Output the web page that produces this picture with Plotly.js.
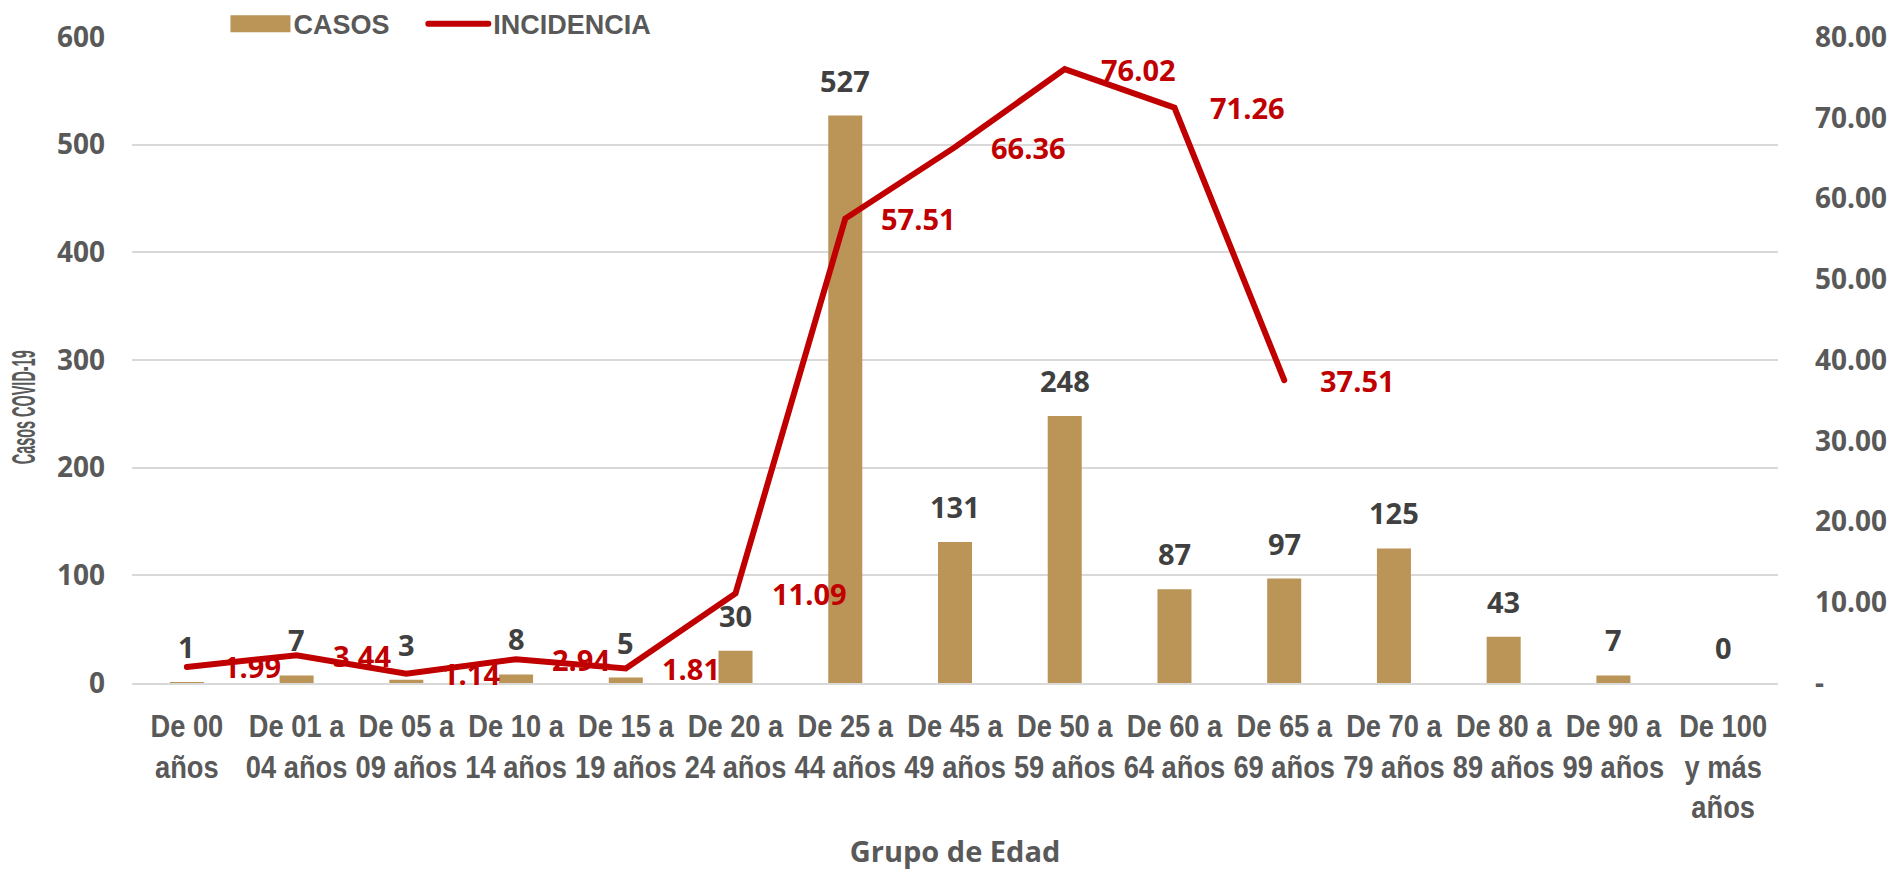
<!DOCTYPE html>
<html>
<head>
<meta charset="utf-8">
<script src="https://cdn.plot.ly/plotly-3.0.1.min.js"></script>
<style>html,body{margin:0;padding:0;background:#fff;}#chart{width:1896px;height:870px;}</style>
</head>
<body>
<div id="chart"></div>
<script>
// ---- data ----
const categories = ["De 00 años","De 01 a 04 años","De 05 a 09 años","De 10 a 14 años","De 15 a 19 años","De 20 a 24 años","De 25 a 44 años","De 45 a 49 años","De 50 a 59 años","De 60 a 64 años","De 65 a 69 años","De 70 a 79 años","De 80 a 89 años","De 90 a 99 años","De 100 y más años"];
const tickLabels = ["De 00<br>años","De 01 a<br>04 años","De 05 a<br>09 años","De 10 a<br>14 años","De 15 a<br>19 años","De 20 a<br>24 años","De 25 a<br>44 años","De 45 a<br>49 años","De 50 a<br>59 años","De 60 a<br>64 años","De 65 a<br>69 años","De 70 a<br>79 años","De 80 a<br>89 años","De 90 a<br>99 años","De 100<br>y más<br>años"];
const casos = [1,7,3,8,5,30,527,131,248,87,97,125,43,7,0];
const incidenciaCats = ["De 00 años","De 01 a 04 años","De 05 a 09 años","De 10 a 14 años","De 15 a 19 años","De 20 a 24 años","De 25 a 44 años","De 45 a 49 años","De 50 a 59 años","De 60 a 64 años","De 65 a 69 años"];
const incidencia = [1.99,3.44,1.14,2.94,1.81,11.09,57.51,66.36,76.02,71.26,37.51];
const yTickVals = [0,100,200,300,400,500,600];
const y2TickVals = [0,10,20,30,40,50,60,70,80];
const y2TickText = ["-","10.00","20.00","30.00","40.00","50.00","60.00","70.00","80.00"];
const seriesNames = ["CASOS","INCIDENCIA"];
const xTitle = "Grupo de Edad";
const yTitle = "Casos COVID-19";

// ---- style ----
const NARROW = '"Liberation Sans", Arial, sans-serif';
const WIDE = '"Open Sans", "Liberation Sans", sans-serif';
const GREY = '#595959';
const DARK = '#404040';
const RED = '#C00000';
const GOLD = '#BB9457';

const traces = [
  {
    type: 'bar', name: seriesNames[0], x: categories, y: casos,
    marker: {color: GOLD}, yaxis: 'y', hoverinfo: 'x+y', legend: 'legend'
  },
  {
    type: 'scatter', mode: 'lines', name: seriesNames[1], x: incidenciaCats, y: incidencia,
    line: {color: RED, width: 6}, yaxis: 'y2', hoverinfo: 'x+y', legend: 'legend2'
  }
];

const annotations = [];
categories.forEach((c, i) => {
  annotations.push({
    x: c, y: casos[i], xref: 'x', yref: 'y', text: String(casos[i]),
    showarrow: false, xanchor: 'center', yanchor: 'bottom', yshift: 14,
    font: {family: WIDE, size: 29, color: DARK, weight: 'bold'}
  });
});
incidenciaCats.forEach((c, i) => {
  annotations.push({
    x: c, y: incidencia[i], xref: 'x', yref: 'y2', text: incidencia[i].toFixed(2),
    showarrow: false, xanchor: 'left', yanchor: 'middle', xshift: 34,
    font: {family: WIDE, size: 29, color: RED, weight: 'bold'}
  });
});
// y-axis title (sits a little below the middle of the axis, as in the reference)
const yTitleIndex = annotations.length;
annotations.push({
  x: -0.066, y: 0.427, xref: 'paper', yref: 'paper', text: yTitle, textangle: -90,
  showarrow: false, xanchor: 'center', yanchor: 'middle',
  font: {family: NARROW, size: 33, color: GREY, weight: 'bold'}
});

const legendFont = {family: NARROW, size: 27, color: GREY, weight: 'bold'};
const layout = {
  width: 1896, height: 870,
  margin: {l: 132, r: 118, t: 37, b: 187, pad: 0, autoexpand: false},
  paper_bgcolor: '#fff', plot_bgcolor: '#fff',
  bargap: 0.69,
  showlegend: true,
  legend: {
    orientation: 'h', x: 0.058, xanchor: 'left', y: 1.02, yanchor: 'middle',
    itemwidth: 56, font: legendFont, bgcolor: 'rgba(0,0,0,0)', borderwidth: 0
  },
  legend2: {
    orientation: 'h', x: 0.177, xanchor: 'left', y: 1.02, yanchor: 'middle',
    itemwidth: 60, font: legendFont, bgcolor: 'rgba(0,0,0,0)', borderwidth: 0
  },
  xaxis: {
    type: 'category', tickvals: categories, ticktext: tickLabels,
    tickfont: {family: NARROW, size: 31, color: GREY, weight: 'bold'},
    ticks: '', showgrid: false, showline: true, linecolor: '#D9D9D9', linewidth: 2,
    tickangle: 0, ticklabelstandoff: 15, automargin: false,
    title: {text: xTitle, font: {family: WIDE, size: 29, color: GREY, weight: 'bold'}, standoff: 36}
  },
  yaxis: {
    range: [0, 600], tickvals: yTickVals, showgrid: true, gridcolor: '#D9D9D9', gridwidth: 2,
    zeroline: false, showline: false, ticks: '',
    tickfont: {family: WIDE, size: 28, color: GREY, weight: 'bold'},
    ticklabelstandoff: 26, automargin: false
  },
  yaxis2: {
    range: [0, 80], overlaying: 'y', side: 'right', tickvals: y2TickVals, ticktext: y2TickText,
    showgrid: false, zeroline: false, showline: false, ticks: '',
    tickfont: {family: WIDE, size: 28, color: GREY, weight: 'bold'},
    ticklabelstandoff: 36, automargin: false
  },
  annotations: annotations
};

function condense(el, factor) {
  const len = el.getComputedTextLength();
  if (len > 0) {
    el.setAttribute('textLength', (len * factor).toFixed(1));
    el.setAttribute('lengthAdjust', 'spacingAndGlyphs');
  }
}

Plotly.newPlot('chart', traces, layout, {displayModeBar: false, staticPlot: true}).then(function (gd) {
  // condensed look of the reference's narrow font
  const g = gd.querySelectorAll('.annotation')[yTitleIndex];
  const t = g && g.querySelector('text.annotation-text');
  if (t) { t.setAttribute('textLength', '114'); t.setAttribute('lengthAdjust', 'spacingAndGlyphs'); }
  gd.querySelectorAll('.xtick text').forEach(function (txt) {
    const lines = txt.querySelectorAll('tspan.line');
    if (lines.length) lines.forEach(function (l) { condense(l, 0.88); });
    else condense(txt, 0.88);
  });
  // wide legend swatch for the bars, round line ends
  const sw = gd.querySelector('g.legend .legendpoints path');
  if (sw) sw.setAttribute('d', 'M30,8.5H-30V-8.5H30Z');
  gd.querySelectorAll('.scatterlayer .js-line').forEach(function (p) { p.style.strokeLinecap = 'round'; });
  gd.querySelectorAll('g.legend2 .legendlines path').forEach(function (p) { p.style.strokeLinecap = 'round'; });
});
</script>
</body>
</html>
